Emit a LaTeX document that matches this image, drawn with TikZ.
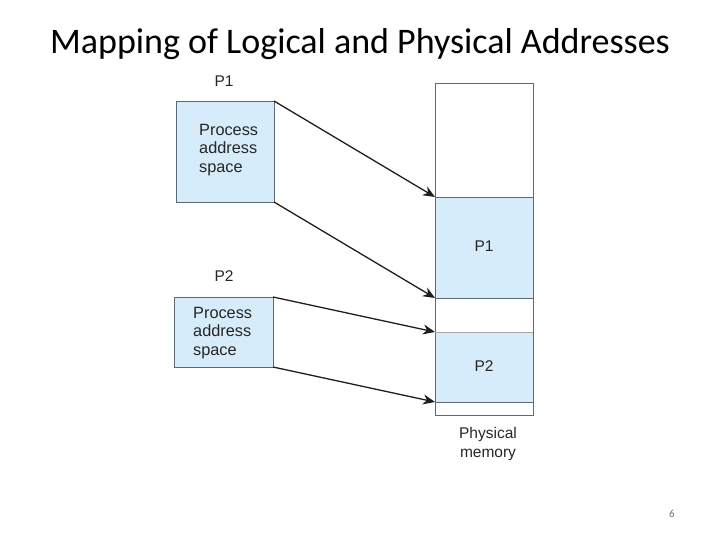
\documentclass[tikz,border=0pt]{standalone}
\usepackage{fontspec}
\setmainfont{Liberation Sans}
\newfontfamily\titlefont{Carlito}
\usetikzlibrary{arrows.meta}
\definecolor{procblue}{RGB}{214,236,250}
\definecolor{boxgray}{RGB}{95,105,115}
\definecolor{arrowblack}{RGB}{30,30,30}
\tikzset{
  procbox/.style={draw=boxgray, line width=0.9pt, fill=procblue},
  memline/.style={draw=boxgray, line width=0.8pt},
  maparrow/.style={draw=arrowblack, line width=1.3pt, -{Stealth[length=12pt,width=10pt]}},
  lbl/.style={font=\fontsize{15.5}{18.5}\selectfont, text=black!85, inner sep=0pt},
  boxtext/.style={font=\fontsize{16.3}{18.5}\selectfont, text=black!85, align=left, inner sep=0pt, anchor=north west},
}
\begin{document}
\begin{tikzpicture}[x=1pt,y=-1pt]
\useasboundingbox (0,0) rectangle (720,540);
% title
\node[font=\titlefont\fontsize{36}{40}\selectfont, anchor=base, inner sep=0pt] (title) at (360,54) {Mapping of Logical and Physical Addresses};
% process boxes
\draw[procbox] (176,101) rectangle (274,202);
\coordinate (p1tl) at (274,101);
\coordinate (p1bl) at (274,202);
\node[lbl] (p1lbl) at (224,81) {P1};
\node[boxtext] (p1txt) at (199,124) {Process\\address\\space};
\draw[procbox] (174,297) rectangle (273,367);
\coordinate (p2tl) at (273,297);
\coordinate (p2bl) at (273,367);
\node[lbl] (p2lbl) at (224,276) {P2};
\node[boxtext] (p2txt) at (193,307) {Process\\address\\space};
% physical memory
\fill[procblue] (435,197) rectangle (533,298);
\fill[procblue] (435,332) rectangle (533,402);
\draw[memline] (435,83) rectangle (533,415);
\draw[memline] (435,197) -- (533,197);
\draw[memline] (435,298) -- (533,298);
\draw[draw=black!35, line width=0.8pt] (435,332) -- (533,332);
\draw[memline] (435,402) -- (533,402);
\coordinate (m1t) at (435,197);
\coordinate (m1b) at (435,298);
\coordinate (m2t) at (435,332);
\coordinate (m2b) at (435,402);
\node[lbl] (mp1) at (484,246) {P1};
\node[lbl] (mp2) at (484,366) {P2};
\node[lbl, align=center] (physlbl) at (488,444) {Physical\\memory};
% arrows
\draw[maparrow] (p1tl) -- (m1t);
\draw[maparrow] (p1bl) -- (m1b);
\draw[maparrow] (p2tl) -- (m2t);
\draw[maparrow] (p2bl) -- (m2b);
% page number
\node[font=\titlefont\fontsize{11}{12}\selectfont, text=black!55] (pagenum) at (672,514) {6};
\end{tikzpicture}
\end{document}
